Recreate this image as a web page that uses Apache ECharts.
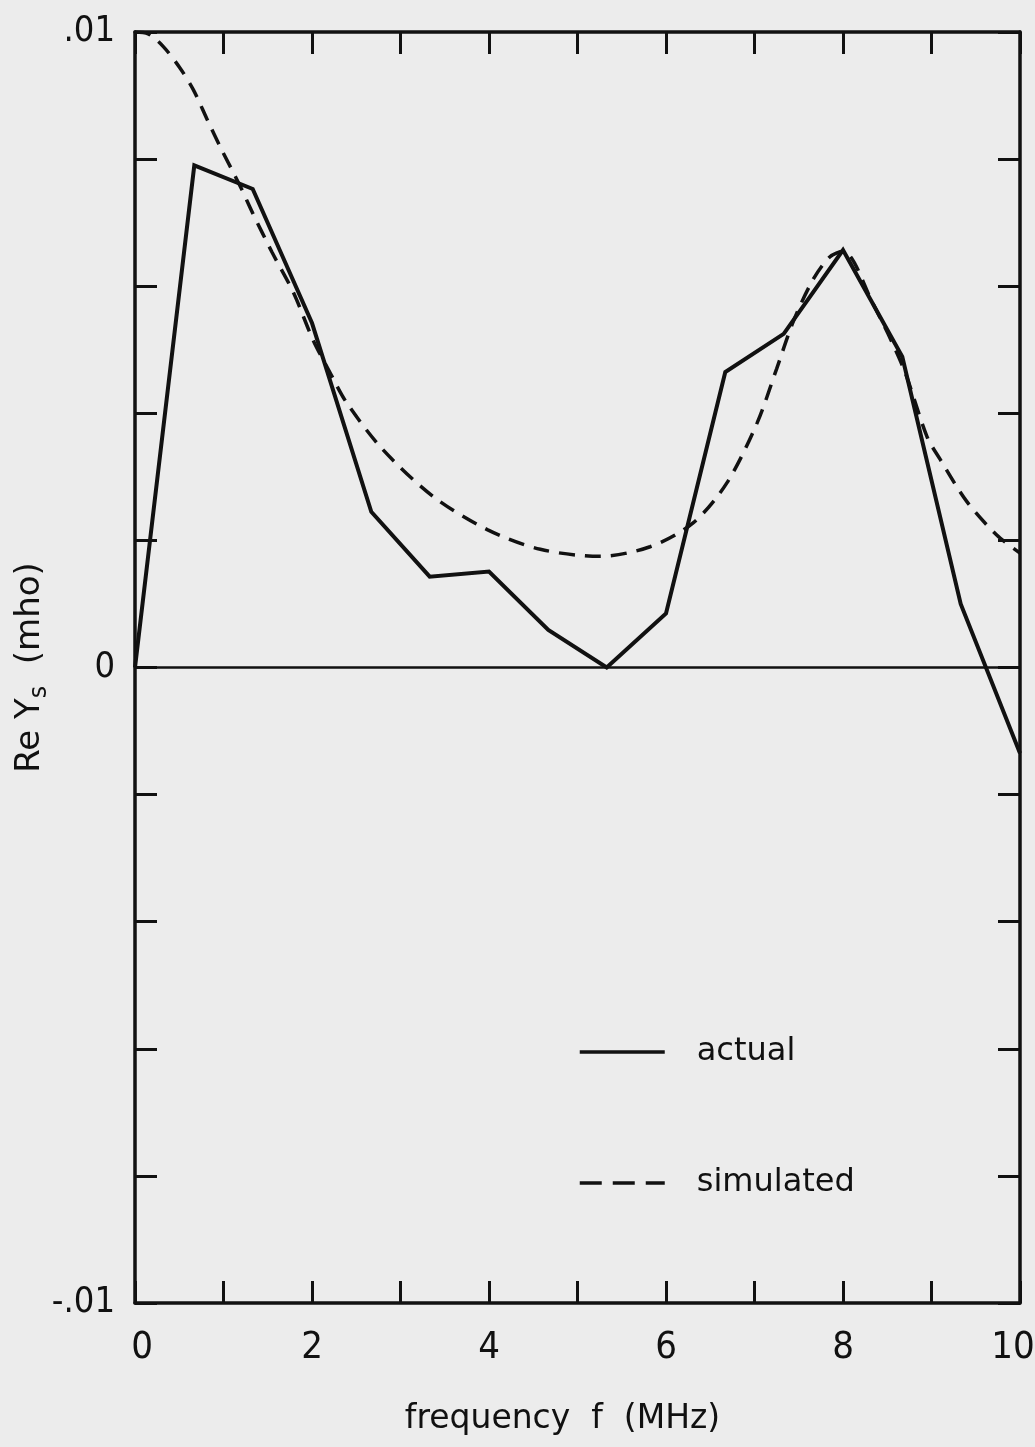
<!DOCTYPE html>
<html>
<head>
<meta charset="utf-8">
<script src="https://cdn.jsdelivr.net/npm/echarts@6/dist/echarts.min.js"></script>
<style>
  html, body { margin: 0; padding: 0; background: #ececec; }
  #chart { width: 1035px; height: 1447px; }
</style>
</head>
<body>
<div id="chart"></div>
<script>
// measured points, Re Ys in mho vs frequency in MHz
var freqActual = [0, 0.67, 1.33, 2, 2.67, 3.33, 4, 4.67, 5.33, 6, 6.67, 7.33, 8, 8.67, 9.33, 10];
var reActual = [0, 0.0079, 0.00753, 0.00542, 0.00245, 0.00143, 0.00151, 0.00059, 0, 0.00085, 0.00465, 0.00525, 0.00657, 0.00489, 0.001, -0.00135];

var freqSim = [0, 0.15, 0.32, 0.51, 0.66, 0.81, 0.96, 1.19, 1.33, 1.55, 1.79, 2.01, 2.2, 2.39, 2.8, 3.37, 3.98, 4.58, 5.25, 5.82, 6.31, 6.69, 7.03, 7.25, 7.44, 7.66, 7.85, 8.0, 8.33, 8.68, 8.95, 9.1, 9.4, 9.74, 10];
var reSim = [0.01, 0.00997, 0.00977, 0.00943, 0.00909, 0.00864, 0.0082, 0.00757, 0.00715, 0.00653, 0.0059, 0.00516, 0.00465, 0.00417, 0.00343, 0.00269, 0.00217, 0.00186, 0.00175, 0.0019, 0.00228, 0.00291, 0.00385, 0.0047, 0.00545, 0.0061, 0.00646, 0.00655, 0.00575, 0.00472, 0.00363, 0.00327, 0.00261, 0.00208, 0.0018];

var xLabels = [0, 2, 4, 6, 8, 10];
var yLabels = { '0.01': '.01', '0': '0', '-0.01': '-.01' };

var NUM_FONT = '"DejaVu Sans Condensed", "DejaVu Sans", sans-serif';
var FONT = '"DejaVu Sans", sans-serif';
var INK = '#111';

function pairs(xs, ys) {
  return xs.map(function (x, i) { return [x, ys[i]]; });
}

var chartDom = document.getElementById('chart');
var myChart = echarts.init(chartDom);

var frameLine = { show: true, onZero: false, lineStyle: { color: INK, width: 3.5 } };
var innerTick = { show: true, inside: true, length: 22, lineStyle: { color: INK, width: 3 } };

var option = {
  backgroundColor: '#ececec',
  animation: false,
  grid: { left: 135, right: 15, top: 32, bottom: 144, outerBoundsMode: 'none', containLabel: false },
  legend: {
    data: [
      { name: 'actual', lineStyle: { type: 'solid', width: 3.5 } },
      { name: 'simulated', lineStyle: { type: [22, 11], width: 3.5 } }
    ],
    orient: 'vertical',
    left: 573,
    top: 1031,
    itemWidth: 85,
    itemHeight: 28,
    itemGap: 99,
    itemStyle: { opacity: 0 },
    textStyle: { fontSize: 32, lineHeight: 28, color: INK, fontFamily: FONT, padding: [0, 0, 0, 27] }
  },
  xAxis: [
    {
      type: 'value', min: 0, max: 10, interval: 1, position: 'bottom',
      name: 'frequency  f  (MHz)', nameLocation: 'middle', nameGap: 100,
      nameTextStyle: { fontSize: 33, color: INK, fontFamily: FONT, padding: [0, 30, 0, 0] },
      axisLine: frameLine, axisTick: innerTick, splitLine: { show: false },
      axisLabel: {
        margin: 26, fontSize: 38, color: INK, fontFamily: NUM_FONT,
        formatter: function (v) {
          var r = Math.round(v * 100) / 100;
          if (xLabels.indexOf(r) < 0) return '';
          if (r === 0) return '{lo|0}';
          if (r === 10) return '{hi|10}';
          return String(r);
        },
        rich: {
          lo: { fontSize: 38, fontFamily: NUM_FONT, color: INK, padding: [0, 0, 0, 14] },
          hi: { fontSize: 38, fontFamily: NUM_FONT, color: INK, padding: [0, 14, 0, 0] }
        }
      }
    },
    {
      type: 'value', min: 0, max: 10, interval: 1, position: 'top',
      axisLine: frameLine, axisTick: innerTick, splitLine: { show: false },
      axisLabel: { show: false }
    }
  ],
  yAxis: [
    {
      type: 'value', min: -0.01, max: 0.01, interval: 0.002, position: 'left',
      name: '{a|Re Y}{s|s}{a|  (mho)}', nameLocation: 'middle', nameGap: 88, nameRotate: 90,
      nameMoveOverlap: false,
      nameTextStyle: {
        color: INK, fontFamily: FONT,
        rich: {
          a: { fontSize: 34, lineHeight: 34, verticalAlign: 'top', color: INK, fontFamily: FONT },
          s: { fontSize: 24, lineHeight: 24, padding: [15, 0, 0, 0], verticalAlign: 'top', color: INK, fontFamily: FONT }
        }
      },
      axisLine: frameLine, axisTick: innerTick, splitLine: { show: false },
      axisLabel: {
        margin: 20, fontSize: 36, color: INK, fontFamily: NUM_FONT,
        formatter: function (v) {
          var k = String(Math.round(v * 1000) / 1000);
          return yLabels[k] || '';
        }
      }
    },
    {
      type: 'value', min: -0.01, max: 0.01, interval: 0.002, position: 'right',
      axisLine: frameLine, axisTick: innerTick, splitLine: { show: false },
      axisLabel: { show: false }
    }
  ],
  series: [
    {
      name: 'actual',
      type: 'line',
      data: pairs(freqActual, reActual),
      symbol: 'none',
      lineStyle: { color: INK, width: 4, join: 'miter' },
      itemStyle: { color: INK },
      markLine: {
        silent: true,
        symbol: ['none', 'none'],
        label: { show: false },
        lineStyle: { color: INK, width: 2.5, type: 'solid' },
        data: [{ yAxis: 0 }]
      }
    },
    {
      name: 'simulated',
      type: 'line',
      data: pairs(freqSim, reSim),
      symbol: 'none',
      smooth: 0.3,
      lineStyle: { color: INK, width: 3.5, type: [16, 10] },
      itemStyle: { color: INK }
    }
  ]
};

option && myChart.setOption(option);
</script>
</body>
</html>
